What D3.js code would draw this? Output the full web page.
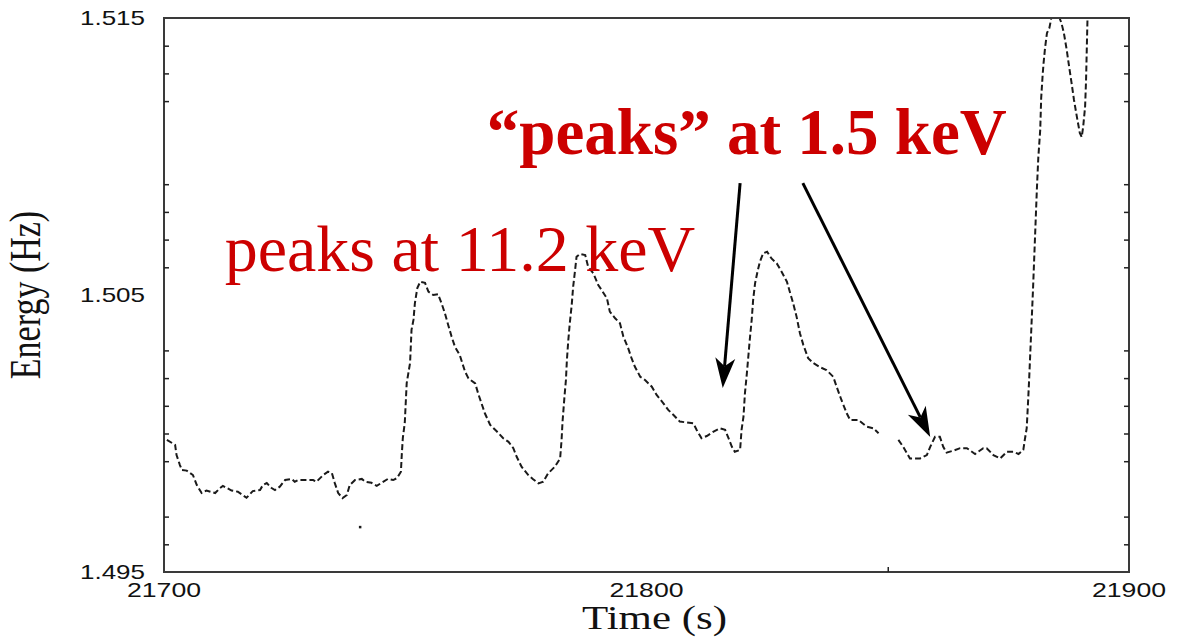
<!DOCTYPE html>
<html>
<head>
<meta charset="utf-8">
<script src="https://cdn.jsdelivr.net/npm/d3@7/dist/d3.min.js"></script>
<style>
  html, body { margin: 0; padding: 0; background: #fff; }
  svg { display: block; }
</style>
</head>
<body>
<svg id="chart" width="1178" height="638"></svg>
<script>
// Light-curve trace: time (s) and energy readout; null marks a readout gap
const time = [
  21700.6, 21702.3, 21702.6, 21703.3, 21703.7, 21704.7, 21706.0, 21706.8, 21707.8, 21708.8,
  21710.6, 21711.6, 21712.2, 21714.0, 21715.3, 21717.1, 21718.4, 21719.9, 21720.5, 21721.3,
  21722.3, 21723.0, 21724.0, 21725.1, 21726.5, 21727.1, 21727.8, 21730.9, 21731.6, 21733.0,
  21734.0, 21734.8, 21735.4, 21736.1, 21737.0, 21737.9, 21738.5, 21739.6, 21741.0, 21741.7,
  21743.0, 21744.1, 21745.1, 21746.4, 21747.5, 21748.3, 21749.1, 21749.3, 21749.5, 21749.9,
  21750.3, 21751.0, 21751.3, 21751.7, 21752.0, 21752.5, 21753.1, 21754.1, 21754.8, 21755.8,
  21756.8, 21757.5, 21758.2, 21758.9, 21759.6, 21760.3, 21761.3, 21762.4, 21763.1, 21764.5,
  21765.1, 21765.8, 21766.5, 21767.6, 21769.0, 21770.3, 21771.4, 21772.4, 21773.1, 21774.1,
  21775.5, 21776.5, 21777.6, 21778.6, 21779.6, 21781.0, 21782.1, 21782.4, 21782.6, 21783.0,
  21783.3, 21783.5, 21783.8, 21784.1, 21784.5, 21784.8, 21785.2, 21785.5, 21786.2, 21787.3,
  21787.9, 21789.0, 21790.0, 21790.7, 21791.8, 21792.4, 21793.5, 21794.5, 21795.2, 21796.2,
  21796.9, 21797.6, 21798.7, 21799.7, 21801.1, 21802.1, 21803.5, 21804.5, 21805.6, 21806.9,
  21809.7, 21810.4, 21811.4, 21812.5, 21813.9, 21815.2, 21816.3, 21817.0, 21817.7, 21818.3,
  21819.4, 21819.7, 21820.1, 21820.4, 21820.8, 21821.1, 21821.4, 21821.8, 21822.1, 21822.5,
  21823.0, 21823.5, 21824.2, 21825.0, 21825.9, 21827.0, 21828.0, 21829.1, 21829.7, 21830.4,
  21831.1, 21831.8, 21832.5, 21833.5, 21834.6, 21836.0, 21837.3, 21838.7, 21839.4, 21840.4,
  21841.5, 21842.2, 21843.9, 21845.6, 21847.0, 21848.1, 21850.0,
  21852.2, 21853.2, 21854.6, 21856.7, 21858.1, 21858.8, 21859.8, 21860.8, 21861.5, 21862.2,
  21863.6, 21865.0, 21866.4, 21868.1, 21869.8, 21870.5, 21871.9, 21873.3, 21874.7, 21876.0,
  21877.1, 21878.1, 21878.4, 21878.8, 21879.1, 21879.3, 21880.1, 21880.9, 21881.2, 21881.6,
  21881.8, 21882.1, 21882.3, 21882.6, 21883.0, 21883.5, 21883.9, 21884.7, 21885.6, 21886.0,
  21886.5, 21887.1, 21887.6, 21888.1, 21888.6, 21889.2, 21889.8, 21890.2, 21890.5, 21890.9,
  21891.1, 21891.4, 21891.5
];
const energy = [
  1.49977, 1.49959, 1.49922, 1.49886, 1.49868, 1.49866, 1.49850, 1.49814, 1.49785, 1.49794,
  1.49785, 1.49803, 1.49811, 1.49794, 1.49790, 1.49768, 1.49792, 1.49796, 1.49814, 1.49821,
  1.49803, 1.49796, 1.49808, 1.49832, 1.49836, 1.49826, 1.49832, 1.49832, 1.49826, 1.49850,
  1.49862, 1.49857, 1.49821, 1.49785, 1.49767, 1.49778, 1.49814, 1.49832, 1.49836, 1.49826,
  1.49822, 1.49811, 1.49822, 1.49836, 1.49832, 1.49839, 1.49862, 1.49930, 1.49984, 1.50038,
  1.50182, 1.50255, 1.50374, 1.50410, 1.50471, 1.50525, 1.50548, 1.50544, 1.50512, 1.50500,
  1.50503, 1.50471, 1.50435, 1.50392, 1.50350, 1.50313, 1.50283, 1.50223, 1.50199, 1.50181,
  1.50145, 1.50109, 1.50073, 1.50031, 1.50007, 1.49983, 1.49970, 1.49947, 1.49916, 1.49880,
  1.49850, 1.49835, 1.49820, 1.49826, 1.49856, 1.49880, 1.49910, 1.49977, 1.50043, 1.50133,
  1.50193, 1.50265, 1.50338, 1.50398, 1.50464, 1.50530, 1.50590, 1.50638, 1.50648, 1.50644,
  1.50602, 1.50578, 1.50536, 1.50518, 1.50488, 1.50440, 1.50416, 1.50398, 1.50350, 1.50308,
  1.50272, 1.50241, 1.50205, 1.50193, 1.50169, 1.50139, 1.50109, 1.50085, 1.50067, 1.50043,
  1.50037, 1.50013, 1.49983, 1.49991, 1.50007, 1.50019, 1.50013, 1.49983, 1.49952, 1.49934,
  1.49941, 1.50013, 1.50061, 1.50145, 1.50217, 1.50277, 1.50338, 1.50410, 1.50482, 1.50542,
  1.50584, 1.50620, 1.50651, 1.50656, 1.50632, 1.50614, 1.50584, 1.50548, 1.50512, 1.50470,
  1.50422, 1.50362, 1.50320, 1.50272, 1.50254, 1.50239, 1.50229, 1.50205, 1.50169, 1.50121,
  1.50073, 1.50049, 1.50049, 1.50025, 1.50019, 1.50001, null,
  1.49977, 1.49952, 1.49910, 1.49910, 1.49922, 1.49952, 1.49988, 1.49988, 1.49952, 1.49931,
  1.49938, 1.49947, 1.49947, 1.49926, 1.49947, 1.49947, 1.49922, 1.49910, 1.49934, 1.49934,
  1.49926, 1.49941, 1.49977, 1.50019, 1.50121, 1.50193, 1.50518, 1.50879, 1.50995, 1.51096,
  1.51211, 1.51294, 1.51338, 1.51392, 1.51446, 1.51464, 1.51500, 1.51529, 1.51500, 1.51482,
  1.51446, 1.51384, 1.51323, 1.51265, 1.51204, 1.51143, 1.51085, 1.51070, 1.51107, 1.51179,
  1.51276, 1.51500, 1.51650
];

// Isolated stray readout below the baseline
const strayTime = [21740.6];
const strayEnergy = [1.49663];

// Axis ticks
const xLabels = [21700, 21800, 21900];
const xMinorTicks = [21850];
const yLabels = [1.495, 1.505, 1.515];
const yMinorTicks = [1.496, 1.497, 1.499, 1.500, 1.501, 1.502, 1.503,
                     1.506, 1.507, 1.508, 1.509, 1.512, 1.513, 1.514];

// Annotations
const noteText = ["peaks at 11.2 keV", "\u201Cpeaks\u201D at 1.5 keV"];
const noteTime = [21712.6, 21766.9];
const noteEnergy = [1.50587, 1.51010];
const arrowFromTime = [21819.4, 21832.4];
const arrowFromEnergy = [1.50904, 1.50904];
const arrowToTime = [21815.8, 21858.8];
const arrowToEnergy = [1.50164, 1.49987];

const svg = d3.select("#chart");
const W = 1178, H = 638;
const margin = { left: 164, right: W - 1129, top: 18, bottom: H - 572 };
const pw = W - margin.left - margin.right;
const ph = H - margin.top - margin.bottom;

const x = d3.scaleLinear().domain([21700, 21900]).range([margin.left, margin.left + pw]);
const y = d3.scaleLinear().domain([1.495, 1.515]).range([margin.top + ph, margin.top]);

svg.append("rect").attr("width", W).attr("height", H).attr("fill", "#fff");

svg.append("defs").append("clipPath").attr("id", "plotClip")
  .append("rect").attr("x", margin.left).attr("y", margin.top)
  .attr("width", pw).attr("height", ph);

const stretch = 1.3;
const tickFont = "'Liberation Sans', Arial, Helvetica, sans-serif";
const serif = "'Liberation Serif', 'Times New Roman', Times, serif";

// Trace
const pts = time.map((t, i) => ({ t, e: energy[i] }));
const line = d3.line()
  .defined(d => d.e !== null)
  .x(d => x(d.t))
  .y(d => y(d.e));

const plot = svg.append("g").attr("clip-path", "url(#plotClip)");
plot.append("path")
  .datum(pts)
  .attr("d", line)
  .attr("fill", "none")
  .attr("stroke", "#1a1a1a")
  .attr("stroke-width", 2)
  .attr("stroke-dasharray", "6,3");

plot.selectAll(".stray")
  .data(strayTime.map((t, i) => ({ t, e: strayEnergy[i] })))
  .join("rect")
  .attr("class", "stray")
  .attr("x", d => x(d.t) - 1)
  .attr("y", d => y(d.e) - 1)
  .attr("width", 2.5).attr("height", 2.5)
  .attr("fill", "#1a1a1a");

// Frame
svg.append("rect")
  .attr("x", margin.left).attr("y", margin.top)
  .attr("width", pw).attr("height", ph)
  .attr("fill", "none").attr("stroke", "#3a3a3a").attr("stroke-width", 2);

// Axes with inward ticks
const tickLen = 5;
const leftAxis = d3.axisRight(y).tickValues(yMinorTicks).tickSize(tickLen).tickFormat("");
const rightAxis = d3.axisLeft(y).tickValues(yMinorTicks).tickSize(tickLen).tickFormat("");
const bottomAxis = d3.axisTop(x).tickValues(xMinorTicks).tickSize(tickLen).tickFormat("");

function styleAxis(g) {
  g.select(".domain").remove();
  g.selectAll(".tick line").attr("stroke", "#222").attr("stroke-width", 1.5);
}
svg.append("g").attr("transform", `translate(${margin.left},0)`).call(leftAxis).call(styleAxis);
svg.append("g").attr("transform", `translate(${margin.left + pw},0)`).call(rightAxis).call(styleAxis);
svg.append("g").attr("transform", `translate(0,${margin.top + ph})`).call(bottomAxis).call(styleAxis);

// Tick labels
svg.selectAll(".ylab")
  .data(yLabels)
  .join("text")
  .attr("class", "ylab")
  .attr("transform", d => `translate(${margin.left - 19},${y(d)}) scale(${stretch},1)`)
  .attr("text-anchor", "end")
  .attr("dominant-baseline", "central")
  .attr("font-family", tickFont)
  .attr("font-size", 20)
  .attr("fill", "#111")
  .text(d => d3.format(".3f")(d));

svg.selectAll(".xlab")
  .data(xLabels)
  .join("text")
  .attr("class", "xlab")
  .attr("transform", d => `translate(${x(d)},${margin.top + ph + 18}) scale(${stretch},1)`)
  .attr("text-anchor", "middle")
  .attr("dominant-baseline", "central")
  .attr("font-family", tickFont)
  .attr("font-size", 20.5)
  .attr("fill", "#111")
  .text(d => d3.format("d")(d));

// Axis titles
svg.append("text")
  .attr("transform", `translate(${margin.left + pw / 2 + 8},${H - 9}) scale(${stretch},1)`)
  .attr("text-anchor", "middle")
  .attr("font-family", serif)
  .attr("font-size", 33)
  .attr("fill", "#111")
  .text("Time (s)");

svg.append("text")
  .attr("transform", `translate(40,${margin.top + ph / 2}) scale(${stretch},1) rotate(-90)`)
  .attr("text-anchor", "middle")
  .attr("font-family", serif)
  .attr("font-size", 34)
  .attr("fill", "#111")
  .text("Energy (Hz)");

// Annotation text
svg.selectAll(".note")
  .data(noteText.map((s, i) => ({ s, t: noteTime[i], e: noteEnergy[i], bold: i === 1 })))
  .join("text")
  .attr("class", "note")
  .attr("x", d => x(d.t))
  .attr("y", d => y(d.e))
  .attr("font-family", serif)
  .attr("font-size", d => d.bold ? 65 : 66)
  .attr("font-weight", d => d.bold ? "bold" : "normal")
  .attr("fill", "#cc0000")
  .text(d => d.s);

// Arrows with notched heads
const arrows = arrowFromTime.map((t, i) => ({
  x1: x(t), y1: y(arrowFromEnergy[i]),
  x2: x(arrowToTime[i]), y2: y(arrowToEnergy[i])
}));
const headLen = 30, headHalf = 10, notch = 8;
const ag = svg.append("g");
arrows.forEach(a => {
  const dx = a.x2 - a.x1, dy = a.y2 - a.y1;
  const len = Math.hypot(dx, dy);
  const ux = dx / len, uy = dy / len;
  const px = -uy, py = ux;
  const bx = a.x2 - ux * headLen, by = a.y2 - uy * headLen;
  ag.append("line")
    .attr("x1", a.x1).attr("y1", a.y1)
    .attr("x2", a.x2 - ux * (headLen - notch)).attr("y2", a.y2 - uy * (headLen - notch))
    .attr("stroke", "#000").attr("stroke-width", 3);
  const head = [
    [a.x2, a.y2],
    [bx + px * headHalf, by + py * headHalf],
    [a.x2 - ux * (headLen - notch), a.y2 - uy * (headLen - notch)],
    [bx - px * headHalf, by - py * headHalf]
  ];
  ag.append("path")
    .attr("d", "M" + head.map(p => p.join(",")).join("L") + "Z")
    .attr("fill", "#000");
});
</script>
</body>
</html>
